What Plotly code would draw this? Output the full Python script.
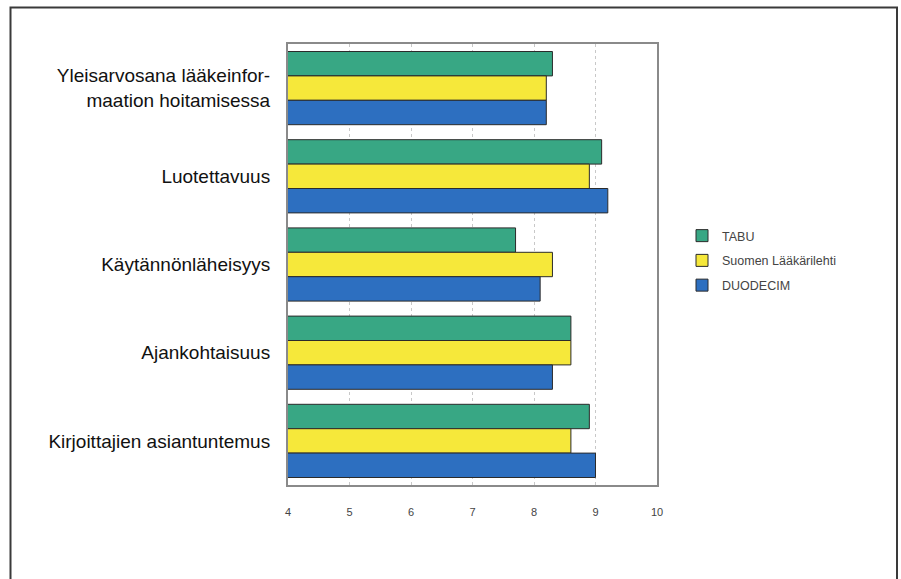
import plotly.graph_objects as go

categories = [
    "Yleisarvosana lääkeinfor-<br>maation hoitamisessa",
    "Luotettavuus",
    "Käytännönläheisyys",
    "Ajankohtaisuus",
    "Kirjoittajien asiantuntemus",
]
series_names = ["TABU", "Suomen Lääkärilehti", "DUODECIM"]
tabu = [8.3, 9.1, 7.7, 8.6, 8.9]
suomen = [8.2, 8.9, 8.3, 8.6, 8.6]
duodecim = [8.2, 9.2, 8.1, 8.3, 9.0]
x_ticks = [4, 5, 6, 7, 8, 9, 10]

colors = ["#38a784", "#f6e83a", "#2d6fc0"]
values = [tabu, suomen, duodecim]

fig = go.Figure()
for i, (name, vals, col) in enumerate(zip(series_names, values, colors)):
    fig.add_trace(go.Bar(
        y=categories, x=vals, name=name, orientation="h",
        base=0,
        marker=dict(color=col, line=dict(color="#2b2b2b", width=1)),
        legendgroup=f"g{i}",
    ))

L, R, T, B = 288, 244, 44, 94
W, H = 901, 579
pw, ph = W - L - R, H - T - B

FONT = "Liberation Sans Narrow, Arial Narrow, Liberation Sans, Arial, sans-serif"

fig.update_layout(
    width=W, height=H,
    margin=dict(l=L, r=R, t=T, b=B, autoexpand=False),
    paper_bgcolor="white", plot_bgcolor="white",
    barmode="group", bargap=0.17, bargroupgap=0,
    font=dict(family=FONT, color="#111"),
    legend=dict(
        x=(682 - L) / pw, y=(485 - 221) / ph, xanchor="left", yanchor="top",
        traceorder="grouped", tracegroupgap=5.5,
        font=dict(size=12.5, color="#444", family=FONT),
        bgcolor="rgba(0,0,0,0)",
    ),
    xaxis=dict(
        range=[4, 10], tickvals=x_ticks, ticktext=[str(t) for t in x_ticks],
        showgrid=True, gridcolor="#c8c8c8", griddash="dot", gridwidth=1,
        zeroline=False, showline=True, linecolor="#8a8a8a", linewidth=2, mirror=True,
        ticks="", ticklabelstandoff=16, automargin=False,
        tickfont=dict(size=11, color="#444"),
    ),
    yaxis=dict(
        autorange="reversed", showline=True, linecolor="#8a8a8a", linewidth=2,
        mirror=True, ticks="", ticklabelstandoff=12, automargin=False,
        tickfont=dict(size=19, color="#111"),
    ),
    shapes=[
        dict(type="rect", xref="paper", yref="paper",
             x0=(10.5 - L) / pw, x1=(897 - L) / pw,
             y0=-0.5, y1=(485 - 7.5) / ph,
             line=dict(color="#3a3a3a", width=2), layer="below"),
    ],
)

fig.write_html("out.html", config={"displayModeBar": False},
               post_script="document.body.style.margin='0';")
